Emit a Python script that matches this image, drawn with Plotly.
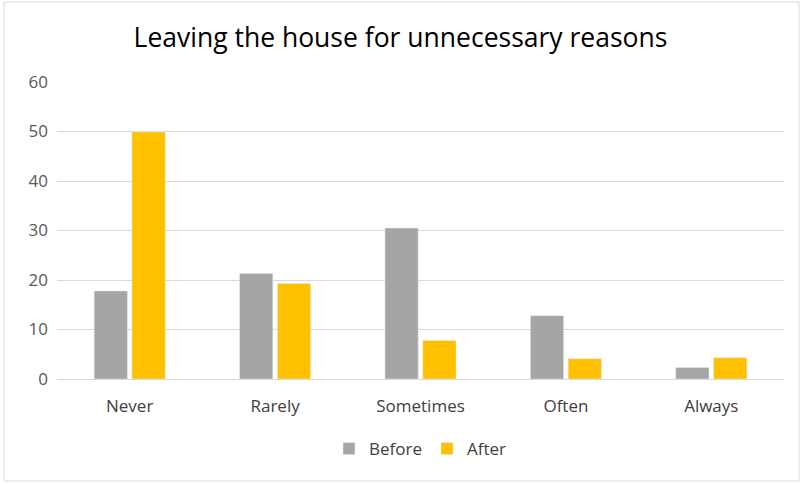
import plotly.graph_objects as go

categories = ["Never", "Rarely", "Sometimes", "Often", "Always"]
before = [17.8, 21.3, 30.5, 12.8, 2.3]
after = [49.9, 19.3, 7.8, 4.1, 4.3]
y_ticks = [0, 10, 20, 30, 40, 50, 60]

W, H = 801, 484
ml, mr, mt, mb = 57, 17, 82, 105
pw = W - ml - mr
ph = H - mt - mb

fig = go.Figure()
fig.add_trace(go.Bar(name="Before", x=categories, y=before, marker_color="#a5a5a5"))
fig.add_trace(go.Bar(name="After", x=categories, y=after, marker_color="#ffc000"))

font_family = "Open Sans, Noto Sans, sans-serif"

fig.update_layout(
    width=W, height=H,
    margin=dict(l=ml, r=mr, t=mt, b=mb, autoexpand=False),
    paper_bgcolor="white", plot_bgcolor="white",
    barmode="group", bargap=0.48, bargroupgap=0.12,
    title=dict(text="Leaving the house for unnecessary reasons",
               x=0.5, xanchor="center", y=1 - 38 / H, yanchor="middle",
               font=dict(family=font_family, size=26.5, color="#000000")),
    font=dict(family=font_family, size=17, color="#595959"),
    xaxis=dict(showgrid=False, showline=False, ticks="", tickfont=dict(size=17, color="#404040"),
               ticklabelstandoff=15),
    yaxis=dict(range=[0, 60], tickvals=y_ticks, showgrid=True, gridcolor="#d9d9d9",
               gridwidth=1, zeroline=True, zerolinecolor="#d9d9d9", zerolinewidth=1,
               showline=False, ticks="", tickfont=dict(size=17, color="#595959"),
               ticklabelstandoff=8),
    legend=dict(orientation="h", x=0.5, xanchor="center", y=-(449 - 379) / ph, yanchor="middle",
                font=dict(size=17, color="#404040"), itemwidth=30, traceorder="normal"),
    shapes=[dict(type="rect", xref="paper", yref="paper",
                 x0=(4 - ml) / pw, x1=(799 - ml) / pw,
                 y0=(H - 481 - mb) / ph, y1=(H - 2 - mb) / ph,
                 line=dict(color="#d9d9d9", width=1), fillcolor="rgba(0,0,0,0)", layer="below")],
)

fig.write_html("out.html", config={"displayModeBar": False},
               post_script="document.body.style.margin='0px';document.body.style.overflow='hidden';")
